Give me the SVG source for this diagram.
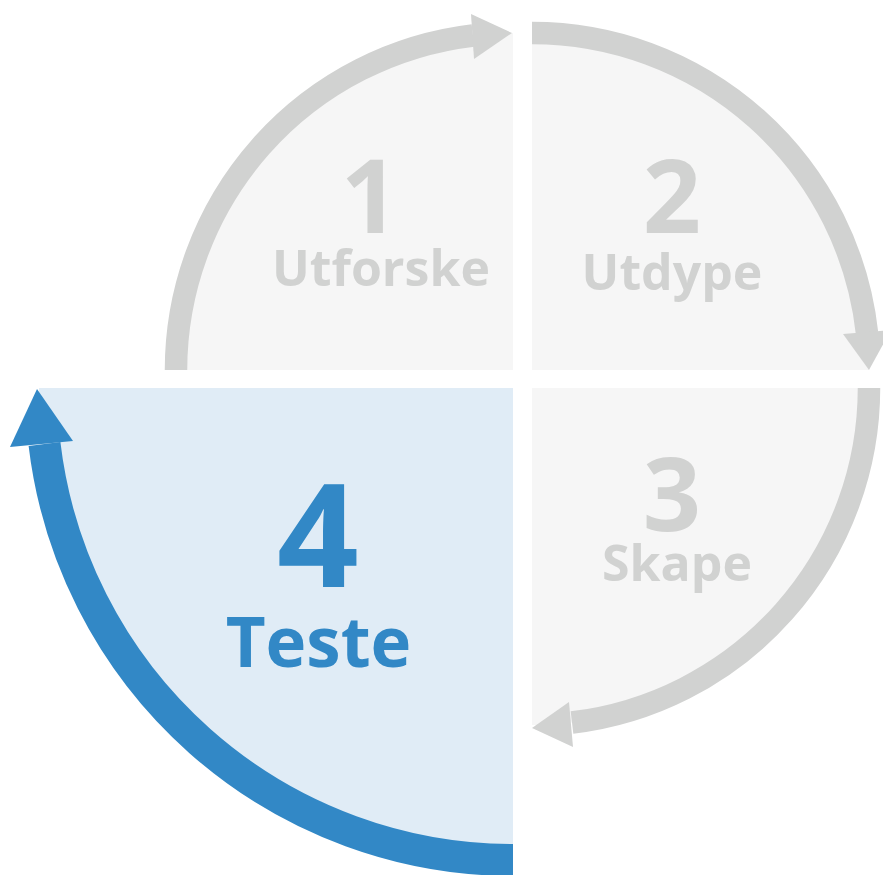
<svg xmlns="http://www.w3.org/2000/svg" width="883" height="875" viewBox="0 0 883 875">
<style>
.gfill{fill:#f6f6f6}
.bfill{fill:#e0ecf6}
.garc{fill:none;stroke:#d1d2d1;stroke-width:22.5}
.barc{fill:none;stroke:#3288c6;stroke-width:32}
.ghead{fill:#d1d2d1}
.bhead{fill:#3288c6}
.num{font-family:"Open Sans","DejaVu Sans",sans-serif;font-weight:700;text-anchor:middle}
.g{fill:#d1d2d1}
.b{fill:#3288c6}
</style>
<rect width="883" height="875" fill="#ffffff"/>
<g id="step1">
<path class="gfill" d="M513 370 L176 370 A337 337 0 0 1 513 33 Z"/>
<text class="num g" x="370" y="233" font-size="102">1</text>
<text class="num g" x="381" y="286" font-size="50">Utforske</text>
</g>
<g id="step2">
<path class="gfill" d="M532 370 L532 33 A337 337 0 0 1 869 370 Z"/>
<text class="num g" x="672" y="233" font-size="102">2</text>
<text class="num g" x="672" y="290" font-size="50">Utdype</text>
</g>
<g id="step3">
<path class="gfill" d="M532 388 L869 388 A337 337 0 0 1 532 725 Z"/>
<text class="num g" x="672" y="531" font-size="102">3</text>
<text class="num g" x="677" y="581" font-size="50">Skape</text>
</g>
<g id="step4">
<path class="bfill" d="M513 388 L513 862 A474 474 0 0 1 39 388 Z"/>
<text class="num b" x="318" y="587" font-size="143">4</text>
<text class="num b" x="318.5" y="667" font-size="69">Teste</text>
</g>
<g id="connectors">
<path class="garc" d="M176 370 A337 337 0 0 1 473 35.5"/>
<polygon class="ghead" points="471,14 512,33 474,59"/>
<path class="garc" d="M532 33 A337 337 0 0 1 867 333"/>
<polygon class="ghead" points="843,334 869,370 891,330"/>
<path class="garc" d="M869 388 A337 337 0 0 1 572 722.5"/>
<polygon class="ghead" points="569,702 532,728 573,747"/>
<path class="barc" d="M513 860 A472 472 0 0 1 44.5 444"/>
<polygon class="bhead" points="10,447 37,389 73,441"/>
</g>
</svg>
